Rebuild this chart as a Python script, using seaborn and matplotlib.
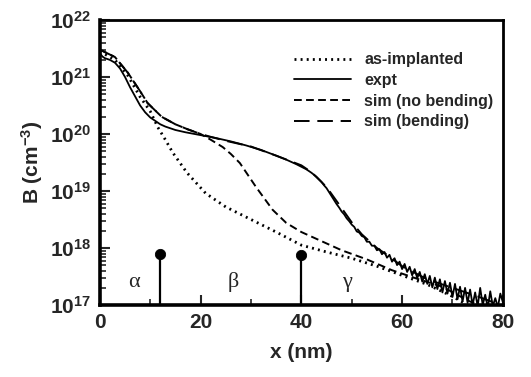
import numpy as np
import seaborn as sns
import matplotlib.pyplot as plt

# depth (nm) and log10 of boron concentration (cm^-3)
implant_x = [0, 3, 5.6, 8, 10, 11.5, 13, 14.5, 17.3, 21, 25, 30, 35, 40, 45, 50, 55, 60, 65, 70, 73]
implant_log = [21.45, 21.3, 21.02, 20.65, 20.4, 20.12, 19.9, 19.67, 19.32, 18.96, 18.72, 18.5, 18.28,
               18.05, 17.93, 17.82, 17.68, 17.52, 17.36, 17.15, 17.0]

expt_head_x = [0, 0.5, 1, 2, 3, 4, 5, 6, 7, 8, 9, 10, 11, 12, 13, 14, 15, 17, 20, 23, 26, 29, 32,
               35, 37, 39, 41, 42, 43, 44, 44.5]
expt_head_log = [21.42, 21.36, 21.33, 21.30, 21.25, 21.15, 21.00, 20.82, 20.66, 20.50, 20.38, 20.29,
                 20.23, 20.17, 20.13, 20.10, 20.07, 20.03, 19.98, 19.93, 19.87, 19.80, 19.72, 19.62,
                 19.55, 19.47, 19.38, 19.32, 19.25, 19.16, 19.10]
expt_tail_x = np.arange(45, 80.5, 0.5)
expt_tail_log = [19.05, 18.98, 18.91, 18.84, 18.77, 18.71, 18.64, 18.59, 18.52, 18.47, 18.41, 18.37,
                 18.29, 18.27, 18.21, 18.19, 18.11, 18.11, 18.04, 18.04, 17.96, 17.98, 17.89, 17.93,
                 17.83, 17.88, 17.76, 17.82, 17.70, 17.76, 17.63, 17.72, 17.58, 17.67, 17.52, 17.63,
                 17.47, 17.58, 17.41, 17.54, 17.37, 17.51, 17.31, 17.48, 17.28, 17.45, 17.22, 17.42,
                 17.20, 17.39, 17.14, 17.37, 17.10, 17.32, 17.06, 17.30, 17.04, 17.27, 17.00, 17.22,
                 16.98, 17.30, 17.00, 17.18, 16.95, 17.24, 16.98, 17.12, 16.96, 17.20, 17.05]

nobend_x = [0, 3, 5.6, 8, 9.5, 12.3, 15, 17.5, 20, 22, 24.4, 26, 27.8, 31, 34.3, 37, 40, 44, 48, 53,
            58, 63, 68, 72.8, 75]
nobend_log = [21.48, 21.35, 21.07, 20.75, 20.54, 20.3, 20.17, 20.08, 20.0, 19.9, 19.77, 19.65, 19.49,
              19.07, 18.67, 18.44, 18.28, 18.12, 17.96, 17.8, 17.61, 17.46, 17.32, 17.09, 17.0]

bend_x = [0, 3, 5.6, 8, 9.5, 12.3, 15, 17.5, 20, 22, 25, 30, 35, 40, 42, 45, 48, 50, 52, 55, 57, 60,
          65, 70, 75, 78]
bend_log = [21.48, 21.35, 21.07, 20.75, 20.54, 20.3, 20.17, 20.08, 20.0, 19.95, 19.88, 19.78, 19.62,
            19.45, 19.33, 19.07, 18.7, 18.45, 18.24, 18.0, 17.88, 17.68, 17.45, 17.3, 17.15, 17.05]

# region boundaries and labels
bound_x = [12, 40]
bound_y = [8e17, 7.5e17]
region_labels = ['α', 'β', 'γ']
region_x = [6.7, 26.4, 49]

expt_x = list(expt_head_x) + list(expt_tail_x)
expt_B = 10 ** np.array(list(expt_head_log) + list(expt_tail_log))

sns.set_style('ticks')
plt.rcParams['font.family'] = ['Liberation Sans', 'DejaVu Sans']
plt.rcParams['font.weight'] = 'bold'
plt.rcParams['mathtext.fontset'] = 'custom'
plt.rcParams['mathtext.rm'] = 'Liberation Sans:bold'
plt.rcParams['mathtext.bf'] = 'Liberation Sans:bold'
plt.rcParams['mathtext.it'] = 'Liberation Sans:bold'

fig, ax = plt.subplots(figsize=(5.31, 3.77), dpi=100)
fig.subplots_adjust(left=0.188, right=0.947, top=0.947, bottom=0.191)

sns.lineplot(x=implant_x, y=10 ** np.array(implant_log), ax=ax, color='black', lw=2.0,
             linestyle=(0, (0.7, 1.5)), label='as-implanted')
sns.lineplot(x=expt_x, y=expt_B, ax=ax, color='black', lw=1.3, label='expt')
sns.lineplot(x=nobend_x, y=10 ** np.array(nobend_log), ax=ax, color='black', lw=1.4,
             linestyle=(0, (4, 2.2)), label='sim (no bending)')
sns.lineplot(x=bend_x, y=10 ** np.array(bend_log), ax=ax, color='black', lw=1.4,
             linestyle=(0, (8, 4)), label='sim (bending)')

ax.vlines(bound_x, 1e17, bound_y, color='black', lw=1.6)
sns.scatterplot(x=bound_x, y=bound_y, ax=ax, color='black', s=55, edgecolor='black', zorder=5)

for lab, xx in zip(region_labels, region_x):
    ax.text(xx, 2.5e17, lab, fontsize=16, ha='center', va='center',
            family=['Liberation Serif', 'DejaVu Serif'], weight='normal')

ax.set_yscale('log')
ax.set_xlim(0, 80)
ax.set_ylim(1e17, 1e22)
ax.set_xticks([0, 20, 40, 60, 80])
ax.set_xticks([10, 30, 50, 70], minor=True)
ax.tick_params(axis='both', which='both', direction='in', top=False, right=False, labelsize=15)
ax.tick_params(axis='both', which='major', length=7, width=1.5, pad=6)
ax.tick_params(axis='both', which='minor', length=4, width=1.2)
for s in ax.spines.values():
    s.set_linewidth(2)
    s.set_color('black')
ax.spines['left'].set_linewidth(2.6)
ax.spines['bottom'].set_linewidth(2.6)

ax.set_xlabel('x (nm)', fontsize=15, fontweight='bold', labelpad=8)
ax.set_ylabel('B (cm$^{-3}$)', fontsize=15, fontweight='bold', labelpad=4)

ax.legend(frameon=False, loc='upper right', handlelength=3.6, handletextpad=0.8,
          prop={'weight': 'bold', 'size': 11.5}, labelspacing=0.35,
          borderaxespad=0.2, bbox_to_anchor=(1.0, 0.92))

plt.savefig('out.png')
plt.close()
